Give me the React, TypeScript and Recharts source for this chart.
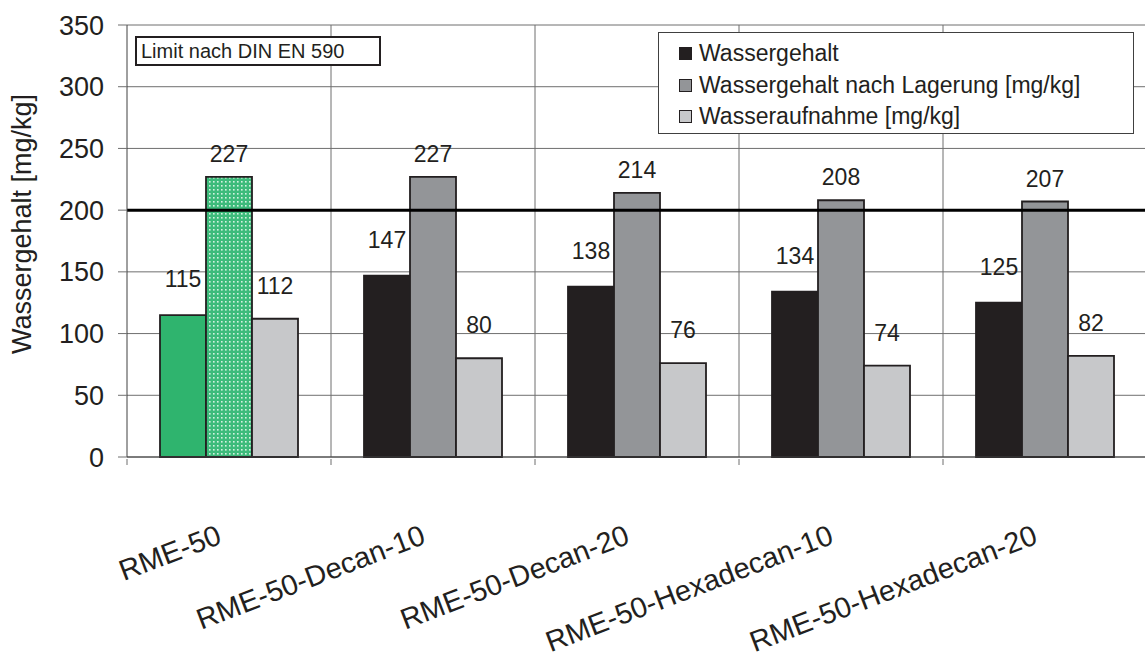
import {
  BarChart,
  Bar,
  XAxis,
  YAxis,
  CartesianGrid,
  ReferenceLine,
  LabelList,
  Cell,
} from "recharts";

const categories = [
  "RME-50",
  "RME-50-Decan-10",
  "RME-50-Decan-20",
  "RME-50-Hexadecan-10",
  "RME-50-Hexadecan-20",
];
const wassergehalt = [115, 147, 138, 134, 125];
const nachLagerung = [227, 227, 214, 208, 207];
const wasseraufnahme = [112, 80, 76, 74, 82];
const yTicks = [0, 50, 100, 150, 200, 250, 300, 350];
const limitValue = 200;

const seriesNames = [
  "Wassergehalt",
  "Wassergehalt nach Lagerung [mg/kg]",
  "Wasseraufnahme [mg/kg]",
];

const data = categories.map((name, i) => ({
  name,
  wassergehalt: wassergehalt[i],
  lagerung: nachLagerung[i],
  aufnahme: wasseraufnahme[i],
}));

const INK = "#231f20";
const DARK = "#231f20";
const MID = "#939598";
const LIGHT = "#c7c8ca";
const GREEN = "#2fb46e";
const GRID = "#6f6f6f";
const FONT = "'Liberation Sans', Arial, sans-serif";

const CategoryTick = (props: any) => {
  const { x, y, payload, index } = props;
  const half = payload && payload.offset ? payload.offset : 102;
  return (
    <g>
      <line x1={x - half} y1={y} x2={x - half} y2={y + 6} stroke={GRID} />
      {index === categories.length - 1 && (
        <line x1={x + half} y1={y} x2={x + half} y2={y + 6} stroke={GRID} />
      )}
      <text
        transform={`translate(${x - 6},${y + 84}) rotate(-21)`}
        textAnchor="end"
        fontSize={29}
        fontFamily={FONT}
        fill={INK}
      >
        {payload.value}
      </text>
    </g>
  );
};

const YTitle = ({ viewBox }: any) => (
  <text
    transform={`translate(${viewBox.x + 22},${viewBox.y + viewBox.height / 2 - 17}) rotate(-90)`}
    textAnchor="middle"
    dy="0.35em"
    fontSize={27}
    fontFamily={FONT}
    fill={INK}
  >
    Wassergehalt [mg/kg]
  </text>
);

const legendColors = [DARK, MID, LIGHT];

export default function App() {
  return (
    <div
      style={{
        position: "absolute",
        left: 0,
        top: 0,
        width: 1145,
        height: 660,
        overflow: "hidden",
        background: "#fff",
        fontFamily: FONT,
      }}
    >
      <BarChart
        width={1150}
        height={660}
        data={data}
        margin={{ top: 25, right: 3, bottom: 0, left: 0 }}
        barCategoryGap={33}
        barGap={0}
      >
        <defs>
          <pattern id="greenDots" width="4" height="4" patternUnits="userSpaceOnUse">
            <rect width="4" height="4" fill="#3dbb7b" />
            <rect x="1" y="1" width="1.6" height="1.6" fill="#d4f2e1" />
          </pattern>
        </defs>
        <CartesianGrid
          stroke={GRID}
          verticalCoordinatesGenerator={({ offset }: any) =>
            categories
              .slice(1)
              .map((_, i) => offset.left + (offset.width * (i + 1)) / categories.length)
          }
        />
        <XAxis
          dataKey="name"
          height={203}
          tickLine={false}
          tickSize={0}
          axisLine={{ stroke: "#404040" }}
          tick={<CategoryTick />}
          interval={0}
        />
        <YAxis
          width={127}
          domain={[0, 350]}
          ticks={yTicks}
          tickSize={9}
          tickMargin={14}
          axisLine={{ stroke: "#404040" }}
          tickLine={{ stroke: GRID }}
          tick={{ fontSize: 27, fill: INK, fontFamily: FONT }}
          label={{ content: YTitle }}
        />
        <Bar dataKey="wassergehalt" name={seriesNames[0]} fill={DARK} stroke={INK} strokeWidth={1.8} isAnimationActive={false}>
          {data.map((_, i) => (
            <Cell key={i} fill={i === 0 ? GREEN : DARK} />
          ))}
          <LabelList dataKey="wassergehalt" position="top" offset={28} fontSize={23} fill={INK} fontFamily={FONT} />
        </Bar>
        <Bar dataKey="lagerung" name={seriesNames[1]} fill={MID} stroke={INK} strokeWidth={1.8} isAnimationActive={false}>
          {data.map((_, i) => (
            <Cell key={i} fill={i === 0 ? "url(#greenDots)" : MID} />
          ))}
          <LabelList dataKey="lagerung" position="top" offset={15} fontSize={23} fill={INK} fontFamily={FONT} />
        </Bar>
        <Bar dataKey="aufnahme" name={seriesNames[2]} fill={LIGHT} stroke={INK} strokeWidth={1.8} isAnimationActive={false}>
          <LabelList dataKey="aufnahme" position="top" offset={25} fontSize={23} fill={INK} fontFamily={FONT} />
        </Bar>
        <ReferenceLine y={limitValue} stroke="#000" strokeWidth={3} />
      </BarChart>

      <div
        style={{
          position: "absolute",
          left: 135,
          top: 36,
          width: 238,
          height: 26,
          border: `2px solid ${INK}`,
          background: "#fff",
          fontSize: 20,
          lineHeight: "26px",
          paddingLeft: 4,
          color: INK,
          boxSizing: "content-box",
        }}
      >
        Limit nach DIN EN 590
      </div>

      <div
        style={{
          position: "absolute",
          left: 658,
          top: 32,
          width: 476,
          height: 102,
          border: "1px solid #404040",
          background: "#fff",
          paddingTop: 5,
          boxSizing: "border-box",
        }}
      >
        {seriesNames.map((name, i) => (
          <div
            key={name}
            style={{ display: "flex", alignItems: "center", height: 31.5, paddingLeft: 20 }}
          >
            <span
              style={{
                display: "inline-block",
                width: 11,
                height: 11,
                background: legendColors[i],
                border: `1.5px solid ${INK}`,
                marginRight: 7,
              }}
            />
            <span style={{ fontSize: 23, color: INK }}>{name}</span>
          </div>
        ))}
      </div>
    </div>
  );
}
